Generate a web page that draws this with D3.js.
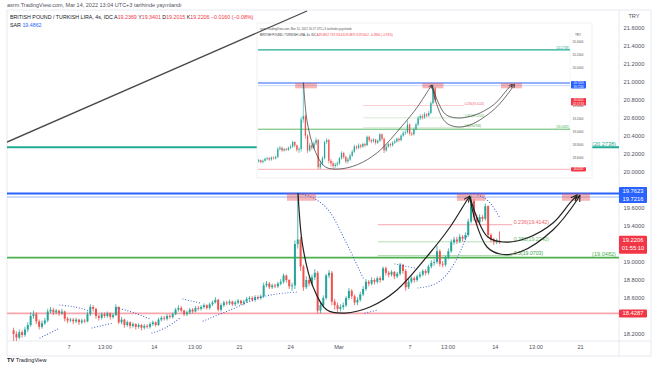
<!DOCTYPE html>
<html><head><meta charset="utf-8">
<script src="https://cdn.jsdelivr.net/npm/d3@7"></script>
<style>body{margin:0;background:#fff;}svg{display:block;font-family:"Liberation Sans",Arial,sans-serif;}</style>
</head><body><svg id="c" width="654" height="366"></svg>
<script>
// ---------------- DATA ----------------
// 4h candles, index t (Feb 7 00:00 = 0), first candle t = -20
const firstT = -20;
const firstOpen = 18.24;
const closes = [
18.20,18.16,18.22,18.19,18.25,18.30,
18.40,18.42,18.34,18.28,18.32,18.35,
18.45,18.47,18.44,18.46,18.43,18.45,
18.37,18.35,18.36,18.34,18.36,18.33,
18.35,18.34,18.42,18.50,18.48,18.40,
18.38,18.42,18.40,18.43,18.39,18.41,
18.50,18.33,18.36,18.30,18.33,18.29,
18.31,18.28,18.30,18.27,18.29,18.28,
18.31,18.33,18.30,18.36,18.38,18.37,
18.40,18.39,18.42,18.47,18.49,18.46,
18.42,18.44,18.47,18.45,18.49,18.48,
18.50,18.52,18.49,18.53,18.55,18.58,
18.47,18.52,18.55,18.54,18.56,18.53,
18.55,18.57,18.54,18.56,18.59,18.60,
18.58,18.61,18.60,18.62,18.74,18.76,
18.72,18.74,18.73,18.76,18.78,18.85,
18.80,18.73,18.74,19.20,19.25,18.95,
18.72,18.80,18.76,18.83,18.88,18.46,
18.52,18.60,18.85,18.88,18.56,18.52,
18.48,18.50,18.52,18.60,18.68,18.62,
18.55,18.58,18.64,18.70,18.78,18.76,
18.80,18.78,18.82,18.80,18.93,18.88,
18.86,18.89,18.84,18.87,18.97,18.90,
18.72,18.78,18.82,18.80,18.84,18.86,
18.90,18.88,18.95,18.99,19.00,19.12,
18.98,18.97,19.05,19.12,19.22,19.25,
19.23,19.28,19.26,19.30,19.45,19.68,
19.50,19.44,19.50,19.48,19.62,19.30,
19.25,19.22,19.2369,19.2206];
const highs = [
18.27,18.23,18.25,18.24,18.28,18.33,
18.44,18.46,18.44,18.36,18.35,18.38,
18.48,18.50,18.49,18.48,18.47,18.48,
18.46,18.39,18.38,18.38,18.38,18.37,
18.37,18.37,18.45,18.53,18.52,18.49,
18.42,18.44,18.44,18.45,18.44,18.43,
18.53,18.51,18.39,18.37,18.35,18.34,
18.33,18.32,18.32,18.31,18.31,18.31,
18.33,18.35,18.34,18.38,18.40,18.40,
18.42,18.42,18.44,18.49,18.52,18.51,
18.47,18.46,18.49,18.49,18.51,18.51,
18.52,18.54,18.53,18.55,18.57,18.61,
18.59,18.54,18.57,18.57,18.58,18.57,
18.57,18.59,18.58,18.58,18.61,18.62,
18.62,18.63,18.63,18.64,18.77,18.79,
18.78,18.76,18.76,18.78,18.81,18.87,
18.86,18.81,18.77,19.24,19.77,19.28,
18.97,18.84,18.83,18.86,18.92,18.90,
18.56,18.63,18.87,18.91,18.90,18.59,
18.55,18.53,18.55,18.62,18.71,18.70,
18.64,18.61,18.67,18.73,18.81,18.80,
18.83,18.82,18.84,18.84,18.95,18.95,
18.90,18.91,18.90,18.89,18.99,18.98,
18.92,18.81,18.84,18.84,18.86,18.89,
18.92,18.92,18.97,19.02,19.03,19.18,
19.14,19.01,19.07,19.15,19.25,19.28,
19.28,19.31,19.30,19.33,19.48,19.74,
19.70,19.53,19.53,19.52,19.65,19.63,
19.32,19.27,19.26,19.3401];
const lows = [
18.12,18.10,18.14,18.16,18.17,18.22,
18.28,18.37,18.31,18.25,18.26,18.30,
18.33,18.43,18.41,18.42,18.40,18.41,
18.34,18.32,18.33,18.31,18.32,18.30,
18.31,18.32,18.33,18.40,18.45,18.37,
18.35,18.36,18.38,18.38,18.36,18.37,
18.40,18.31,18.31,18.27,18.28,18.26,
18.27,18.25,18.26,18.24,18.25,18.26,
18.26,18.29,18.28,18.29,18.34,18.35,
18.35,18.37,18.37,18.41,18.45,18.44,
18.40,18.40,18.42,18.43,18.44,18.46,
18.46,18.48,18.47,18.47,18.51,18.54,
18.45,18.45,18.50,18.52,18.52,18.51,
18.51,18.53,18.52,18.52,18.55,18.57,
18.56,18.56,18.58,18.58,18.60,18.72,
18.70,18.70,18.71,18.71,18.74,18.76,
18.77,18.70,18.68,18.70,19.15,18.90,
18.68,18.70,18.73,18.74,18.80,18.43,
18.43,18.49,18.58,18.82,18.52,18.47,
18.44,18.45,18.47,18.50,18.58,18.59,
18.52,18.52,18.56,18.62,18.68,18.73,
18.74,18.75,18.76,18.77,18.79,18.85,
18.83,18.84,18.81,18.82,18.85,18.87,
18.68,18.70,18.76,18.77,18.78,18.82,
18.84,18.85,18.86,18.93,18.96,18.98,
18.95,18.94,18.95,19.03,19.10,19.19,
19.20,19.21,19.23,19.24,19.28,19.43,
19.46,19.41,19.42,19.45,19.46,19.27,
19.22,19.19,19.20,19.2015];

// Parabolic SAR segments: [t, price]
const sarSegments = [
  [[-10.2,18.156],[-3.2,18.267]],
  [[-3.2,18.522],[2.1,18.50],[7.4,18.456]],
  [[8.1,18.267],[15.5,18.322]],
  [[16.9,18.489],[23.2,18.433],[28.5,18.367]],
  [[29.2,18.211],[33.8,18.267],[39.1,18.378]],
  [[40.1,18.589],[46.1,18.544]],
  [[47.2,18.344],[56.7,18.467],[67.9,18.611],[80.2,18.667]],
  [[81.3,19.756],[86.6,19.70],[91.8,19.556],[97.1,19.244],[103.5,18.822]],
  [[104.2,18.433],[108.7,18.467]],
  [[114.7,18.978],[121.8,18.933]],
  [[122.8,18.711],[128.8,18.756],[134.1,18.911],[137.6,19.111],[140.4,19.333]],
  [[143.9,19.744],[148.2,19.656],[151.7,19.486]]
];

// Horizontal levels
const levelTeal = 20.2738, levelBlue = 19.7623, levelLightBlue = 19.7216,
      levelGreen = 19.0482, levelRed = 18.4287, lastPrice = 19.2206;
// Fibonacci retracement (from 19.7216 down to 18.4191)
const fibRatios = ["0.236","0.382","0.5"];
const fibPrices = [19.4142, 19.2240, 19.0703];
const fibRange = [108.7, 156];

// Pink zones: [t0, t1, top, bottom]
const zones = [[76.7,86.9,19.7623,19.68],[136.5,146.4,19.7623,19.68],[173.5,183.3,19.7623,19.68]];

// Drawn curves [t, price]
const cupMain = [[80.6,19.767],[82.3,19.167],[85.9,18.722],[90.8,18.467],[97.1,18.433],[105.9,18.50],[115.4,18.689],[127.0,19.10],[134.1,19.389],[140.1,19.689],[141.1,19.733]];
const cupA = [[141.1,19.722],[143.9,19.467],[147.4,19.278],[152.7,19.222],[161.2,19.267],[170.3,19.433],[176.3,19.656],[178.8,19.744]];
const cupB = [[141.1,19.722],[142.9,19.467],[147.1,19.167],[151.7,19.089],[158.7,19.111],[170.3,19.356],[178.8,19.689],[179.8,19.744]];
const trendLine = [[-21.8,20.333],[83.75,21.789]];

// Axes
const priceTicks = [21.6,21.4,21.2,21.0,20.8,20.6,20.4,20.2,20.0,19.6,19.4,19.0,18.8,18.6,18.2];
const timeTickT = [0,12.7,30,44.3,60,78,95,120,133.4,150,164.3,180];
const timeTickLabels = ["7","13:00","14","13:00","21","24","Mar","7","13:00","14","13:00","21"];
const insetPriceTicks = [20.4,20.2,20.0,19.4,19.2,19.0,18.8,18.6];
const insetLastT = 142;

// ---------------- DRAW ----------------
const svg = d3.select('#c');
const defs = svg.append('defs');
const P = {x0:7, x1:619, y0:10, y1:341};
defs.append('clipPath').attr('id','cm').append('rect').attr('x',P.x0).attr('y',P.y0).attr('width',P.x1-P.x0).attr('height',P.y1-P.y0);
const I = {x0:257, x1:592, y0:23, y1:178, px1:570, py0:38};
defs.append('clipPath').attr('id','ci').append('rect').attr('x',I.x0+1).attr('y',I.py0).attr('width',I.px1-I.x0-1).attr('height',I.y1-I.py0-1);
function mk(id,size){
  defs.append('marker').attr('id',id).attr('viewBox','0 0 10 10').attr('refX',9).attr('refY',5)
   .attr('markerWidth',size).attr('markerHeight',size).attr('markerUnits','userSpaceOnUse').attr('orient','auto')
   .append('path').attr('d','M0,1 L9,5 L0,9').attr('fill','none').attr('stroke','#222').attr('stroke-width',1.5);
}
mk('am',7); mk('ai',4);

const x = d3.scaleLinear().domain([0,180]).range([69,580.5]);
const y = d3.scaleLinear().domain([18.2,21.6]).range([334,28]);

svg.append('rect').attr('width',654).attr('height',366).attr('fill','#fff');
// panel borders
svg.append('rect').attr('x',7).attr('y',10).attr('width',644).attr('height',346).attr('fill','none').attr('stroke','#e0e3eb').attr('stroke-width',0.8);
svg.append('line').attr('x1',7).attr('x2',651).attr('y1',P.y1).attr('y2',P.y1).attr('stroke','#e0e3eb').attr('stroke-width',0.8);
svg.append('line').attr('x1',P.x1).attr('x2',P.x1).attr('y1',10).attr('y2',356).attr('stroke','#e0e3eb').attr('stroke-width',0.8);

const gm = svg.append('g').attr('clip-path','url(#cm)');

function hline(g, sx, sy, price, x0, x1, color, w){
  g.append('line').attr('x1',x0).attr('x2',x1).attr('y1',sy(price)).attr('y2',sy(price)).attr('stroke',color).attr('stroke-width',w);
}
function drawScene(g, sx, sy, xr, scale, opts){
  hline(g,sx,sy,levelTeal,xr[0],xr[1],'#22ab94',2*scale);
  hline(g,sx,sy,levelLightBlue,xr[0],xr[1],'#9ab8f7',1*scale);
  hline(g,sx,sy,levelBlue,xr[0],xr[1],'#2962ff',2*scale);
  hline(g,sx,sy,levelGreen,xr[0],xr[1],'#4caf50',1.6*scale);
  hline(g,sx,sy,levelRed,xr[0],xr[1],'#f7a5ad',1.6*scale);
  // fib
  const fc = ['#f7a5ad','#b6dcb8','#a5d6a7'];
  const ft = ['#f0616d','#66bb6a','#43a047'];
  fibPrices.forEach((p,i)=>{
    g.append('line').attr('x1',sx(fibRange[0])).attr('x2',sx(fibRange[1])).attr('y1',sy(p)).attr('y2',sy(p)).attr('stroke',fc[i]).attr('stroke-width',1*scale);
    g.append('text').attr('x',sx(fibRange[1])+1.5*scale).attr('y',sy(p)-0.8*scale).attr('font-size',5.2*scale).attr('fill',ft[i])
      .text(fibRatios[i]+'('+p.toFixed(4)+')');
  });
  // zones
  zones.forEach(z=>{
    g.append('rect').attr('x',sx(z[0])).attr('width',sx(z[1])-sx(z[0])).attr('y',sy(z[2])).attr('height',sy(z[3])-sy(z[2]))
     .attr('fill','#ef5350').attr('fill-opacity',0.42);
  });
  // candles
  const bw = opts.bw;
  const n = opts.n;
  for(let i=0;i<n;i++){
    const t = firstT+i;
    const o = i===0?firstOpen:closes[i-1], c = closes[i];
    const col = c>=o ? '#26a69a' : '#ef5350';
    const cx = sx(t+0.5);
    g.append('line').attr('x1',cx).attr('x2',cx).attr('y1',sy(highs[i])).attr('y2',sy(lows[i])).attr('stroke',col).attr('stroke-width',Math.max(0.6,0.8*scale));
    const yt = sy(Math.max(o,c)), yb = sy(Math.min(o,c));
    g.append('rect').attr('x',cx-bw/2).attr('width',bw).attr('y',yt).attr('height',Math.max(0.8,yb-yt)).attr('fill',col);
  }
  // SAR
  if(opts.sar){
    const sl = d3.line().x(d=>sx(d[0])).y(d=>sy(d[1])).curve(d3.curveMonotoneX);
    sarSegments.forEach(s=>{
      g.append('path').attr('d',sl(s)).attr('fill','none').attr('stroke','#3056c8').attr('stroke-width',1.1)
       .attr('stroke-linecap','round').attr('stroke-dasharray','0.01 2.8');
    });
  }
  // curves
  const cl = d3.line().x(d=>sx(d[0])).y(d=>sy(d[1])).curve(d3.curveCatmullRom.alpha(0.5));
  [cupMain,cupA,cupB].forEach(cv=>{
    g.append('path').attr('d',cl(cv)).attr('fill','none').attr('stroke','#222').attr('stroke-width',1.2*scale).attr('marker-end','url(#'+opts.marker+')');
  });
}

drawScene(gm, x, y, [P.x0,P.x1], 1, {bw:2, n:closes.length, sar:true, marker:'am'});

// level labels in main
svg.append('text').attr('x',604).attr('y',y(levelTeal)-1.5).attr('text-anchor','middle').attr('font-size',5.6).attr('fill','#22ab94').text('('+levelTeal.toFixed(4)+')');
svg.append('text').attr('x',604).attr('y',y(levelGreen)-1.5).attr('text-anchor','middle').attr('font-size',5.6).attr('fill','#4caf50').text('('+levelGreen.toFixed(4)+')');

// ---- INSET (earlier screenshot) ----
const ix = d3.scaleLinear().domain([80.5,141.5]).range([303.3,433]);
const iy = d3.scaleLinear().domain([18.4287,19.7623]).range([169.3,83]);
const gi0 = svg.append('g');
gi0.append('rect').attr('x',I.x0).attr('y',I.y0).attr('width',I.x1-I.x0).attr('height',I.y1-I.y0).attr('fill','#fff').attr('stroke','#e6e6e6').attr('stroke-width',0.6);
gi0.append('line').attr('x1',I.px1).attr('x2',I.px1).attr('y1',I.y0+10).attr('y2',I.y1).attr('stroke','#eceef2').attr('stroke-width',0.5);
const gi = svg.append('g').attr('clip-path','url(#ci)');
drawScene(gi, ix, iy, [I.x0,I.px1], 0.55, {bw:1.3, n:insetLastT-firstT+1, sar:false, marker:'ai'});
// inset texts
gi0.append('text').attr('x',260).attr('y',30).attr('font-size',2.9).attr('fill','#555').text('asrm TradingView.com, Mar 10, 2022 16:17 UTC+3 tarihinde yayınlandı');
const it2 = gi0.append('text').attr('x',260).attr('y',35.5).attr('font-size',2.9).attr('fill','#333');
it2.append('tspan').text('BRITISH POUND / TURKISH LIRA, 4s, IDC  ');
it2.append('tspan').attr('fill','#f23645').text('A19.6812  Y19.7014  D19.4871  K19.5012  −0.1800 (−0.91%)');
gi0.append('text').attr('x',578).attr('y',36).attr('text-anchor','middle').attr('font-size',3).attr('fill','#555').text('TRY');
insetPriceTicks.forEach(p=>{
  gi0.append('text').attr('x',578).attr('y',iy(p)+1).attr('text-anchor','middle').attr('font-size',3).attr('fill','#555').text(p.toFixed(4));
});
svg.append('text').attr('x',569).attr('y',iy(levelTeal)-1).attr('text-anchor','end').attr('font-size',3).attr('fill','#22ab94').text('('+levelTeal.toFixed(4)+')');
svg.append('text').attr('x',569).attr('y',iy(levelGreen)-1).attr('text-anchor','end').attr('font-size',3).attr('fill','#4caf50').text('('+levelGreen.toFixed(4)+')');
function ibox(yc,h,color,lines){
  gi0.append('rect').attr('x',571).attr('y',yc-h/2).attr('width',15).attr('height',h).attr('rx',0.8).attr('fill',color);
  lines.forEach((s,k)=>gi0.append('text').attr('x',578.5).attr('y',yc-h/2+3.1+k*3.4).attr('text-anchor','middle').attr('font-size',2.8).attr('fill','#fff').text(s));
}
ibox(iy(levelBlue)+1.8,7.4,'#2962ff',['19.7623','19.7216']);
ibox(iy(closes[insetLastT-firstT])+1.8,7.4,'#f23645',['19.5012','02:17:33']);
ibox(iy(levelRed),4.2,'#f23645',['18.4287']);

// trend line (over everything in plot)
const tl = d3.line().x(d=>x(d[0])).y(d=>y(d[1]));
svg.append('g').attr('clip-path','url(#cm)').append('path').attr('d',tl(trendLine)).attr('stroke','#4a4a4a').attr('stroke-width',1.3).attr('fill','none');

// ---- AXES ----
svg.append('text').attr('x',634).attr('y',18).attr('text-anchor','middle').attr('font-size',5.6).attr('fill','#50535e').text('TRY');
priceTicks.forEach(p=>{
  svg.append('text').attr('x',634).attr('y',y(p)+2).attr('text-anchor','middle').attr('font-size',5.8).attr('fill','#50535e').text(p.toFixed(4));
});
function box(yc,h,color,lines){
  svg.append('rect').attr('x',619).attr('y',yc-h/2).attr('width',28).attr('height',h).attr('rx',1).attr('fill',color);
  lines.forEach((s,k)=>svg.append('text').attr('x',633).attr('y',yc-h/2+6+k*8).attr('text-anchor','middle').attr('font-size',5.8).attr('fill','#fff').text(s));
}
box(y(levelBlue)+1.5,16,'#2962ff',[levelBlue.toFixed(4),levelLightBlue.toFixed(4)]);
box(y(lastPrice)+2.5,18,'#f23645',[lastPrice.toFixed(4),'01:55:10']);
box(y(levelRed),8,'#f23645',[levelRed.toFixed(4)]);

timeTickT.forEach((t,i)=>{
  svg.append('text').attr('x',x(t)).attr('y',349).attr('text-anchor','middle').attr('font-size',5.6).attr('fill','#50535e').text(timeTickLabels[i]);
});

// ---- HEADER ----
svg.append('text').attr('x',7).attr('y',7).attr('font-size',5.5).attr('fill','#50535e').text('asrm TradingView.com, Mar 14, 2022 13:04 UTC+3 tarihinde yayınlandı');
const h2 = svg.append('text').attr('x',10).attr('y',19).attr('font-size',5.3).attr('fill','#131722');
h2.append('tspan').text('BRITISH POUND / TURKISH LIRA, 4s, IDC  ');
[['A','19.2369'],['Y','19.3401'],['D','19.2015'],['K','19.2206']].forEach(a=>{
  h2.append('tspan').attr('fill','#131722').text(a[0]);
  h2.append('tspan').attr('fill','#f23645').text(a[1]+'  ');
});
h2.append('tspan').attr('fill','#f23645').text('−0.0160 (−0.08%)');
const h3 = svg.append('text').attr('x',10).attr('y',27).attr('font-size',5.3).attr('fill','#131722');
h3.append('tspan').text('SAR  ');
h3.append('tspan').attr('fill','#2962ff').text('19.4862');

// logo
const lg = svg.append('text').attr('x',7).attr('y',362).attr('font-size',5.6).attr('fill','#131722');
lg.append('tspan').attr('font-weight','bold').text('TV ');
lg.append('tspan').text('TradingView');
</script></body></html>
